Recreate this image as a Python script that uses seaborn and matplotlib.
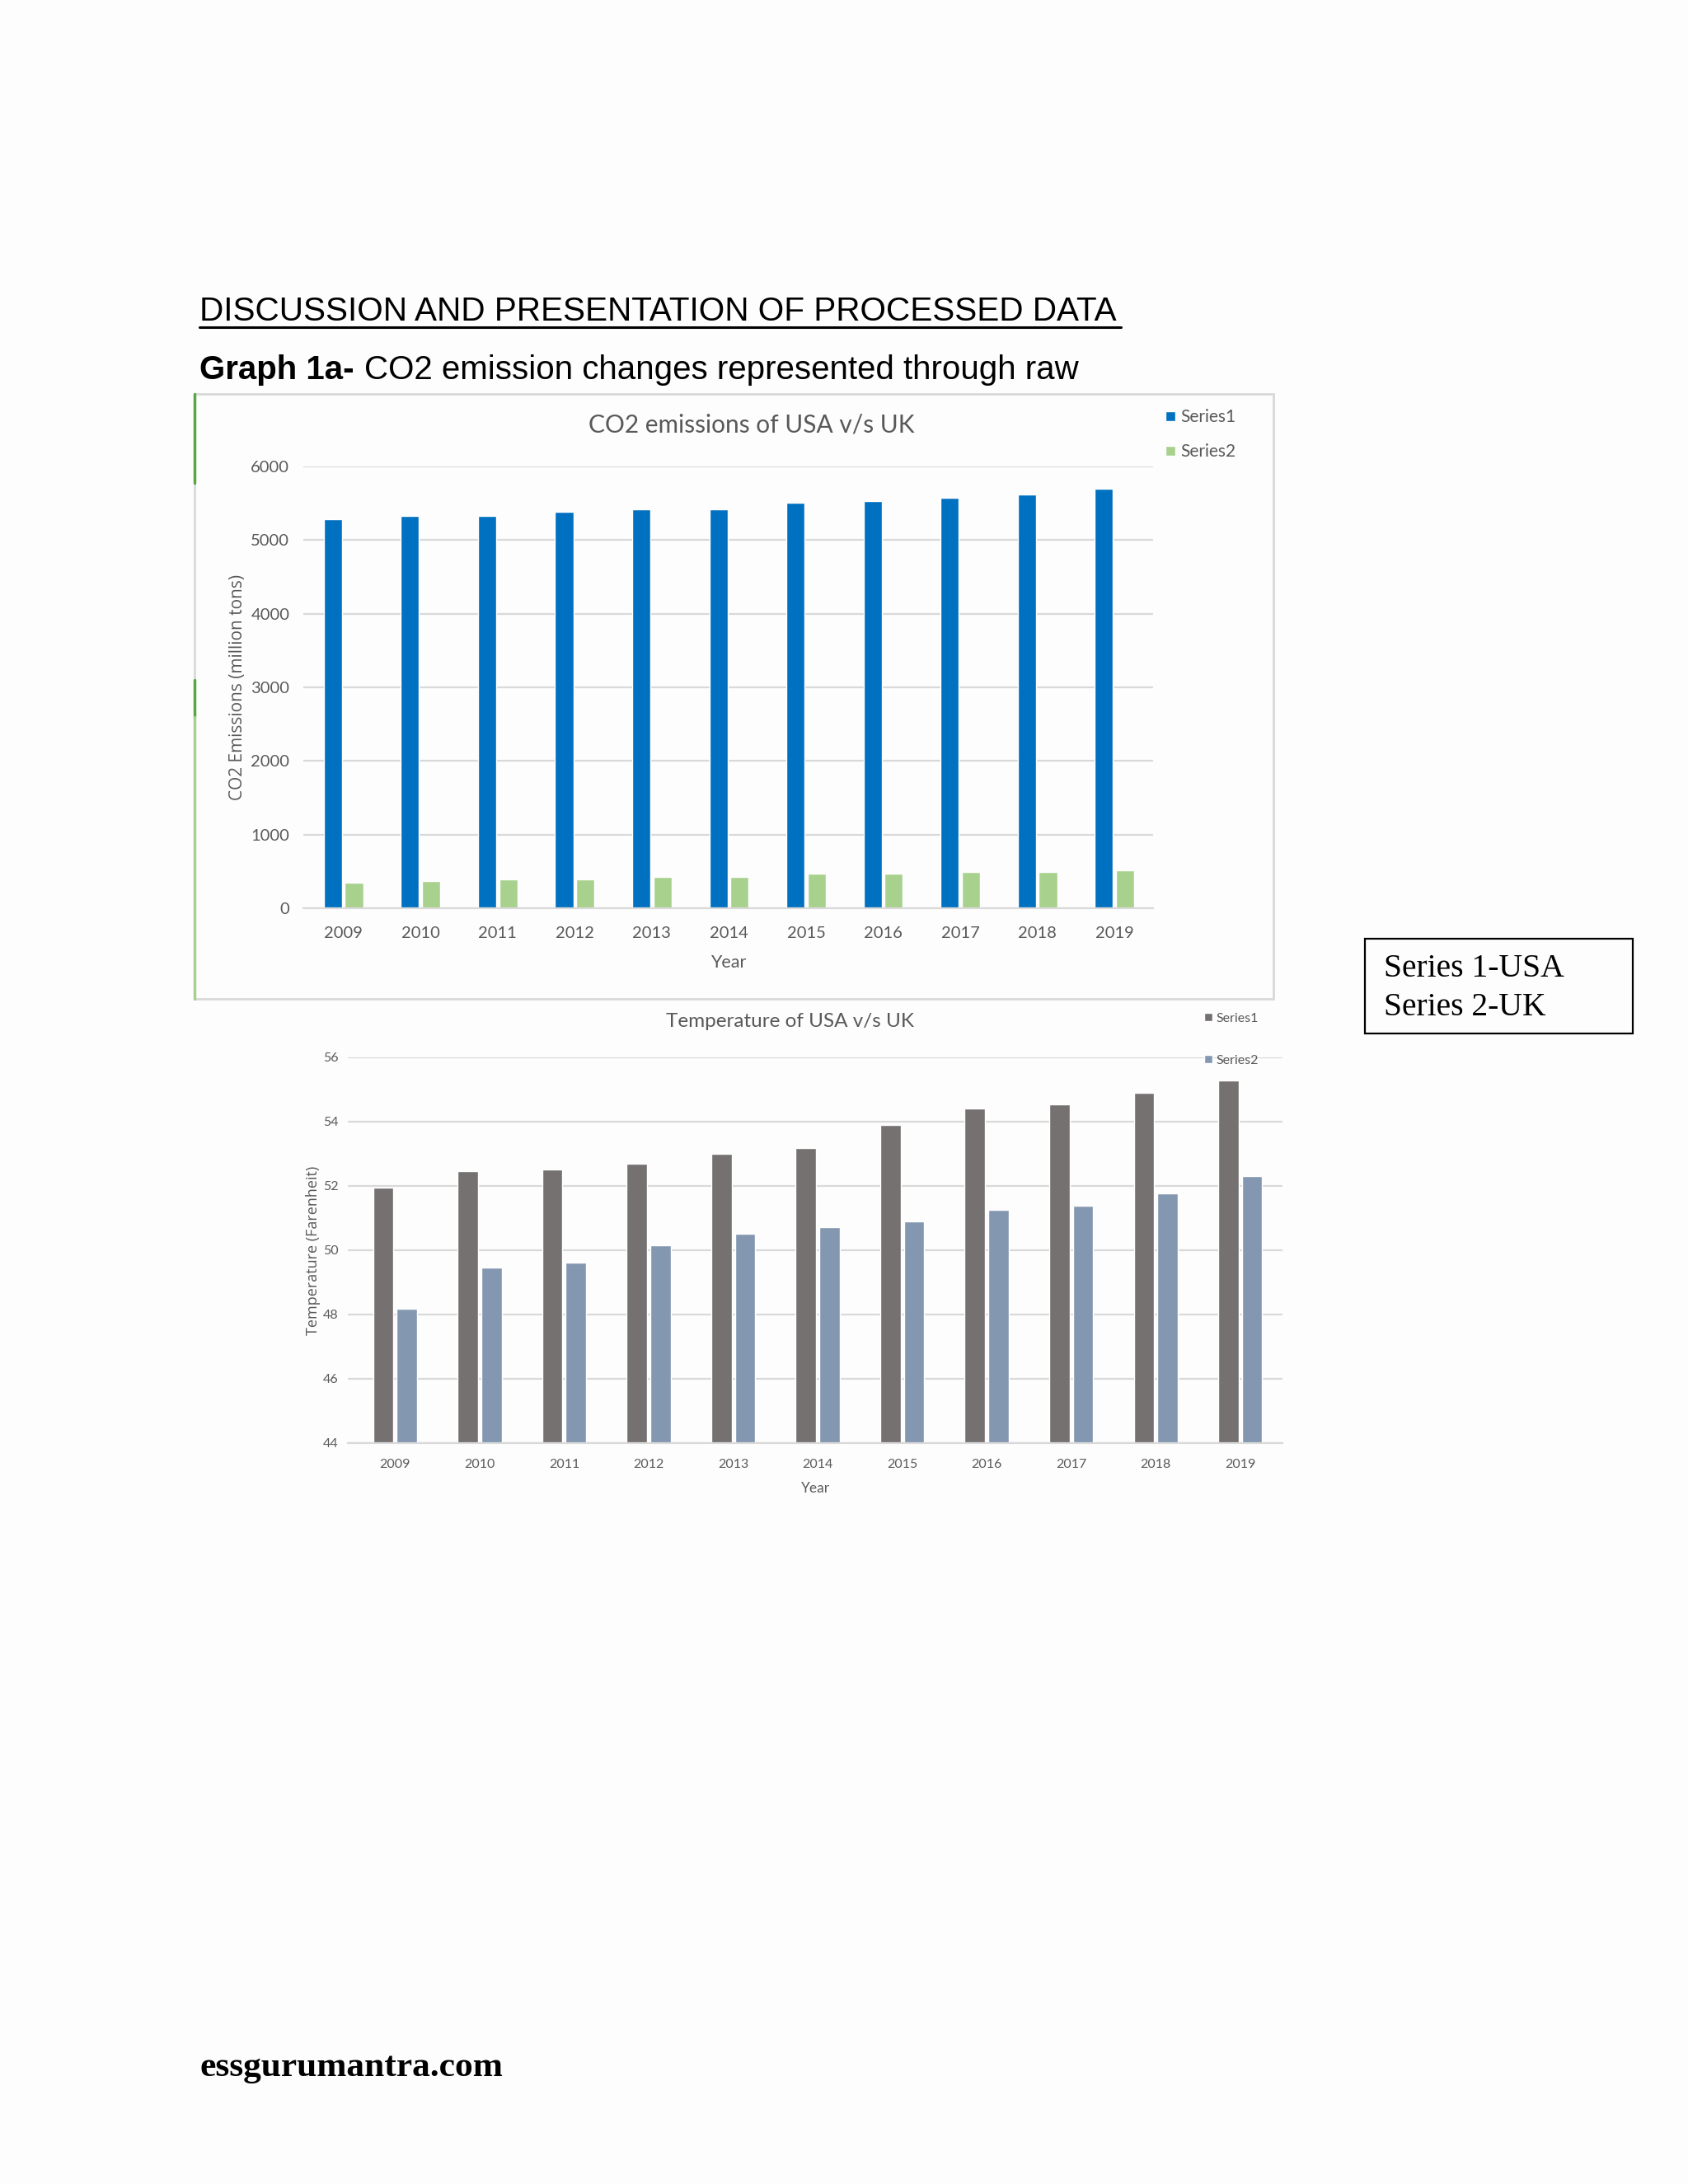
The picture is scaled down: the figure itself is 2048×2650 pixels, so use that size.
import matplotlib
matplotlib.use('Agg')
import matplotlib.pyplot as plt
from matplotlib.patches import Rectangle
from matplotlib.lines import Line2D
import seaborn as sns
import pandas as pd

years = ['2009', '2010', '2011', '2012', '2013', '2014', '2015', '2016', '2017', '2018', '2019']
series_names = ['Series1', 'Series2']

# CO2 emissions (million tons)
co2_usa = [5280, 5325, 5325, 5385, 5420, 5420, 5505, 5530, 5570, 5615, 5695]
co2_uk = [345, 370, 390, 390, 430, 430, 465, 465, 490, 490, 510]
co2_ticks = [0, 1000, 2000, 3000, 4000, 5000, 6000]

# Temperature (Farenheit)
temp_usa = [51.95, 52.45, 52.52, 52.69, 53.0, 53.18, 53.91, 54.42, 54.54, 54.9, 55.27]
temp_uk = [48.18, 49.46, 49.62, 50.15, 50.52, 50.72, 50.89, 51.26, 51.38, 51.76, 52.32]
temp_ticks = [44, 46, 48, 50, 52, 54, 56]

co2 = pd.DataFrame({'Year': years * 2,
                    'Value': co2_usa + co2_uk,
                    'Series': [series_names[0]] * 11 + [series_names[1]] * 11})
temp = pd.DataFrame({'Year': years * 2,
                     'Value': temp_usa + temp_uk,
                     'Series': [series_names[0]] * 11 + [series_names[1]] * 11})

sns.set_style('white')
plt.rcParams['font.family'] = ['Lato', 'DejaVu Sans']

W, H = 2048, 2650
fig = plt.figure(figsize=(W / 100, H / 100), dpi=100)
fig.patch.set_facecolor('#fdfdfe')


def fx(x):
    return x / W


def fy(y):
    return 1 - y / H


def style_axes(ax, ticks, ylim, tick_size, grid_color='#d9d9d9'):
    ax.set_ylim(*ylim)
    ax.set_yticks(ticks)
    ax.set_xlim(-0.52, 10.5)
    for s in ['top', 'right', 'left']:
        ax.spines[s].set_visible(False)
    ax.spines['bottom'].set_color(grid_color)
    ax.spines['bottom'].set_linewidth(1.6)
    ax.yaxis.grid(True, color=grid_color, linewidth=1.6)
    ax.set_axisbelow(True)
    ax.tick_params(axis='both', length=0, labelsize=tick_size, colors='#595959')
    ax.set_facecolor('none')
    if ax.get_legend():
        ax.get_legend().remove()


# page text
fig.text(fx(242), fy(378), 'DISCUSSION AND PRESENTATION OF PROCESSED DATA',
         family='Liberation Sans', fontsize=29.2, va='center', ha='left', color='black')
fig.add_artist(Line2D([fx(242), fx(1360)], [fy(397), fy(397)], color='black', lw=2.2))
fig.text(fx(242), fy(449), 'Graph 1a-', family='Liberation Sans', fontweight='bold',
         fontsize=29, va='center', ha='left', color='black')
fig.text(fx(442), fy(449), 'CO2 emission changes represented through raw',
         family='Liberation Sans', fontsize=29, va='center', ha='left', color='black')

# top chart box
fig.add_artist(Rectangle((fx(236), fy(1212)), fx(1545 - 236), (1212 - 478) / H,
                         fill=False, edgecolor='#d9d9d9', lw=2, transform=fig.transFigure))
fig.add_artist(Line2D([fx(236), fx(236)], [fy(478), fy(586)], color='#5aa642', lw=2.5))
fig.add_artist(Line2D([fx(236), fx(236)], [fy(825), fy(870)], color='#5aa642', lw=2.5))
fig.add_artist(Line2D([fx(236), fx(236)], [fy(870), fy(1212)], color='#a8d08d', lw=2.5))

# top chart
ax1 = fig.add_axes([fx(368), fy(1102), fx(1399 - 368), (1102 - 566) / H])
sns.barplot(data=co2, x='Year', y='Value', hue='Series', ax=ax1,
            palette=['#0070c0', '#a9d18e'], width=0.55, gap=0.14, saturation=1)
style_axes(ax1, co2_ticks, (0, 6000), 14.5)
ax1.tick_params(axis='x', pad=16)
ax1.tick_params(axis='y', pad=12)
ax1.set_xlabel('Year', fontsize=15.5, color='#595959', labelpad=12)
ax1.set_ylabel('CO2 Emissions (million tons)', fontsize=15, color='#595959',
               family='Open Sans', labelpad=4)
fig.text(fx(912), fy(515), 'CO2 emissions of USA v/s UK', fontsize=21.5,
         color='#595959', ha='center', va='center')
h1, l1 = ax1.get_legend_handles_labels()
fig.legend(h1, l1, loc='upper left', bbox_to_anchor=(fx(1404), fy(486)), frameon=False,
           fontsize=15, labelcolor='#595959', handlelength=0.55, handleheight=0.55,
           handletextpad=0.3, labelspacing=1.05, borderpad=0)

# bottom chart
ax2 = fig.add_axes([fx(422), fy(1751), fx(1556 - 422), (1751 - 1283) / H])
sns.barplot(data=temp, x='Year', y='Value', hue='Series', ax=ax2,
            palette=['#767171', '#8497b0'], width=0.56, gap=0.14, saturation=1)
style_axes(ax2, temp_ticks, (44, 56), 11.5)
ax2.set_xlim(-0.56, 10.5)
ax2.tick_params(axis='x', pad=14)
ax2.tick_params(axis='y', pad=8)
ax2.set_xlabel('Year', fontsize=12.5, color='#595959', labelpad=10)
ax2.set_ylabel('Temperature (Farenheit)', fontsize=13, color='#595959',
               family='Open Sans', labelpad=2)
fig.text(fx(958), fy(1240), 'Temperature of USA v/s UK', fontsize=17.5,
         color='#595959', ha='center', va='center')
h2, l2 = ax2.get_legend_handles_labels()
fig.legend(h2, l2, loc='upper left', bbox_to_anchor=(fx(1453), fy(1221)), frameon=False,
           fontsize=11.5, labelcolor='#595959', handlelength=0.6, handleheight=0.6,
           handletextpad=0.3, labelspacing=2.3, borderpad=0)

# series key box
fig.add_artist(Rectangle((fx(1656), fy(1254)), fx(1981 - 1656), (1254 - 1139) / H,
                         fill=False, edgecolor='black', lw=1.6, transform=fig.transFigure))
fig.text(fx(1679), fy(1176), 'Series 1-USA', family='Liberation Serif', fontsize=28.5,
         ha='left', va='center', color='black')
fig.text(fx(1679), fy(1222), 'Series 2-UK', family='Liberation Serif', fontsize=28.5,
         ha='left', va='center', color='black')

# footer
fig.text(fx(242), fy(2509), 'essgurumantra.com', family='Liberation Serif',
         fontweight='bold', fontsize=31.3, ha='left', va='center', color='black')

fig.savefig('out.png', dpi=100, facecolor=fig.get_facecolor())
